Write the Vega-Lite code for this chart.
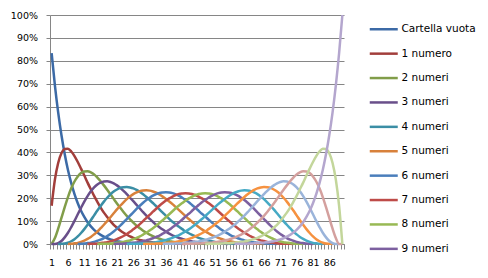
{
"$schema": "https://vega.github.io/schema/vega-lite/v6.json",
"width": 294, "height": 229,
"autosize": "none",
"padding": {"left": 50, "top": 15, "right": 144, "bottom": 34},
"background": "white",
"config": {"view": {"stroke": null}, "font": "DejaVu Sans"},
"datasets": {
"nomi": [{"k":0,"serie":"Cartella vuota"},{"k":1,"serie":"1 numero"},{"k":2,"serie":"2 numeri"},{"k":3,"serie":"3 numeri"},{"k":4,"serie":"4 numeri"},{"k":5,"serie":"5 numeri"},{"k":6,"serie":"6 numeri"},{"k":7,"serie":"7 numeri"},{"k":8,"serie":"8 numeri"},{"k":9,"serie":"9 numeri"},{"k":10,"serie":"10 numeri"},{"k":11,"serie":"11 numeri"},{"k":12,"serie":"12 numeri"},{"k":13,"serie":"13 numeri"},{"k":14,"serie":"14 numeri"},{"k":15,"serie":"15 numeri"}],
"dati": [
{"k":0,"n":1,"p":0.833},{"k":0,"n":2,"p":0.693},{"k":0,"n":3,"p":0.575},{"k":0,"n":4,"p":0.476},{"k":0,"n":5,"p":0.393},{"k":0,"n":6,"p":0.323},{"k":0,"n":7,"p":0.266},{"k":0,"n":8,"p":0.218},{"k":0,"n":9,"p":0.178},{"k":0,"n":10,"p":0.145},{"k":0,"n":11,"p":0.118},{"k":0,"n":12,"p":0.095},{"k":0,"n":13,"p":0.077},{"k":0,"n":14,"p":0.062},{"k":0,"n":15,"p":0.050},{"k":0,"n":16,"p":0.040},{"k":0,"n":17,"p":0.032},{"k":0,"n":18,"p":0.025},{"k":0,"n":19,"p":0.020},{"k":0,"n":20,"p":0.016},{"k":0,"n":21,"p":0.012},{"k":0,"n":22,"p":0.010},{"k":0,"n":23,"p":0.008},{"k":0,"n":24,"p":0.006},{"k":0,"n":25,"p":0.005},{"k":0,"n":26,"p":0.004},{"k":0,"n":27,"p":0.003},{"k":0,"n":28,"p":0.002},{"k":0,"n":29,"p":0.002},{"k":0,"n":30,"p":0.001},{"k":0,"n":31,"p":0.001},{"k":0,"n":32,"p":0.001},{"k":0,"n":33,"p":0},
{"k":1,"n":1,"p":0.167},{"k":1,"n":2,"p":0.281},{"k":1,"n":3,"p":0.354},{"k":1,"n":4,"p":0.396},{"k":1,"n":5,"p":0.415},{"k":1,"n":6,"p":0.416},{"k":1,"n":7,"p":0.404},{"k":1,"n":8,"p":0.384},{"k":1,"n":9,"p":0.358},{"k":1,"n":10,"p":0.329},{"k":1,"n":11,"p":0.299},{"k":1,"n":12,"p":0.268},{"k":1,"n":13,"p":0.239},{"k":1,"n":14,"p":0.210},{"k":1,"n":15,"p":0.184},{"k":1,"n":16,"p":0.159},{"k":1,"n":17,"p":0.137},{"k":1,"n":18,"p":0.118},{"k":1,"n":19,"p":0.100},{"k":1,"n":20,"p":0.084},{"k":1,"n":21,"p":0.071},{"k":1,"n":22,"p":0.059},{"k":1,"n":23,"p":0.049},{"k":1,"n":24,"p":0.041},{"k":1,"n":25,"p":0.033},{"k":1,"n":26,"p":0.027},{"k":1,"n":27,"p":0.022},{"k":1,"n":28,"p":0.018},{"k":1,"n":29,"p":0.014},{"k":1,"n":30,"p":0.011},{"k":1,"n":31,"p":0.009},{"k":1,"n":32,"p":0.007},{"k":1,"n":33,"p":0.006},{"k":1,"n":34,"p":0.004},{"k":1,"n":35,"p":0.003},{"k":1,"n":36,"p":0.003},{"k":1,"n":37,"p":0.002},{"k":1,"n":38,"p":0.001},{"k":1,"n":39,"p":0.001},{"k":1,"n":40,"p":0.001},{"k":1,"n":41,"p":0.001},{"k":1,"n":42,"p":0},
{"k":2,"n":1,"p":0},{"k":2,"n":2,"p":0.026},{"k":2,"n":3,"p":0.067},{"k":2,"n":4,"p":0.114},{"k":2,"n":5,"p":0.161},{"k":2,"n":6,"p":0.205},{"k":2,"n":7,"p":0.243},{"k":2,"n":8,"p":0.273},{"k":2,"n":9,"p":0.295},{"k":2,"n":10,"p":0.310},{"k":2,"n":11,"p":0.317},{"k":2,"n":12,"p":0.318},{"k":2,"n":13,"p":0.313},{"k":2,"n":14,"p":0.304},{"k":2,"n":15,"p":0.290},{"k":2,"n":16,"p":0.274},{"k":2,"n":17,"p":0.256},{"k":2,"n":18,"p":0.237},{"k":2,"n":19,"p":0.217},{"k":2,"n":20,"p":0.197},{"k":2,"n":21,"p":0.177},{"k":2,"n":22,"p":0.158},{"k":2,"n":23,"p":0.140},{"k":2,"n":24,"p":0.123},{"k":2,"n":25,"p":0.108},{"k":2,"n":26,"p":0.093},{"k":2,"n":27,"p":0.080},{"k":2,"n":28,"p":0.069},{"k":2,"n":29,"p":0.058},{"k":2,"n":30,"p":0.049},{"k":2,"n":31,"p":0.041},{"k":2,"n":32,"p":0.034},{"k":2,"n":33,"p":0.028},{"k":2,"n":34,"p":0.023},{"k":2,"n":35,"p":0.019},{"k":2,"n":36,"p":0.015},{"k":2,"n":37,"p":0.012},{"k":2,"n":38,"p":0.010},{"k":2,"n":39,"p":0.008},{"k":2,"n":40,"p":0.006},{"k":2,"n":41,"p":0.005},{"k":2,"n":42,"p":0.004},{"k":2,"n":43,"p":0.003},{"k":2,"n":44,"p":0.002},{"k":2,"n":45,"p":0.002},{"k":2,"n":46,"p":0.001},{"k":2,"n":47,"p":0.001},{"k":2,"n":48,"p":0.001},{"k":2,"n":49,"p":0},
{"k":3,"n":1,"p":0},{"k":3,"n":2,"p":0},{"k":3,"n":3,"p":0.004},{"k":3,"n":4,"p":0.013},{"k":3,"n":5,"p":0.029},{"k":3,"n":6,"p":0.049},{"k":3,"n":7,"p":0.074},{"k":3,"n":8,"p":0.101},{"k":3,"n":9,"p":0.130},{"k":3,"n":10,"p":0.158},{"k":3,"n":11,"p":0.185},{"k":3,"n":12,"p":0.209},{"k":3,"n":13,"p":0.230},{"k":3,"n":14,"p":0.247},{"k":3,"n":15,"p":0.260},{"k":3,"n":16,"p":0.268},{"k":3,"n":17,"p":0.273},{"k":3,"n":18,"p":0.274},{"k":3,"n":19,"p":0.271},{"k":3,"n":20,"p":0.265},{"k":3,"n":21,"p":0.256},{"k":3,"n":22,"p":0.245},{"k":3,"n":23,"p":0.232},{"k":3,"n":24,"p":0.218},{"k":3,"n":25,"p":0.202},{"k":3,"n":26,"p":0.187},{"k":3,"n":27,"p":0.171},{"k":3,"n":28,"p":0.155},{"k":3,"n":29,"p":0.139},{"k":3,"n":30,"p":0.124},{"k":3,"n":31,"p":0.110},{"k":3,"n":32,"p":0.097},{"k":3,"n":33,"p":0.084},{"k":3,"n":34,"p":0.073},{"k":3,"n":35,"p":0.063},{"k":3,"n":36,"p":0.054},{"k":3,"n":37,"p":0.045},{"k":3,"n":38,"p":0.038},{"k":3,"n":39,"p":0.032},{"k":3,"n":40,"p":0.026},{"k":3,"n":41,"p":0.022},{"k":3,"n":42,"p":0.017},{"k":3,"n":43,"p":0.014},{"k":3,"n":44,"p":0.011},{"k":3,"n":45,"p":0.009},{"k":3,"n":46,"p":0.007},{"k":3,"n":47,"p":0.005},{"k":3,"n":48,"p":0.004},{"k":3,"n":49,"p":0.003},{"k":3,"n":50,"p":0.002},{"k":3,"n":51,"p":0.002},{"k":3,"n":52,"p":0.001},{"k":3,"n":53,"p":0.001},{"k":3,"n":54,"p":0.001},{"k":3,"n":55,"p":0},
{"k":4,"n":3,"p":0},{"k":4,"n":4,"p":0.001},{"k":4,"n":5,"p":0.002},{"k":4,"n":6,"p":0.006},{"k":4,"n":7,"p":0.012},{"k":4,"n":8,"p":0.021},{"k":4,"n":9,"p":0.033},{"k":4,"n":10,"p":0.048},{"k":4,"n":11,"p":0.065},{"k":4,"n":12,"p":0.084},{"k":4,"n":13,"p":0.104},{"k":4,"n":14,"p":0.125},{"k":4,"n":15,"p":0.146},{"k":4,"n":16,"p":0.166},{"k":4,"n":17,"p":0.185},{"k":4,"n":18,"p":0.202},{"k":4,"n":19,"p":0.217},{"k":4,"n":20,"p":0.229},{"k":4,"n":21,"p":0.238},{"k":4,"n":22,"p":0.245},{"k":4,"n":23,"p":0.248},{"k":4,"n":24,"p":0.249},{"k":4,"n":25,"p":0.247},{"k":4,"n":26,"p":0.243},{"k":4,"n":27,"p":0.236},{"k":4,"n":28,"p":0.227},{"k":4,"n":29,"p":0.217},{"k":4,"n":30,"p":0.205},{"k":4,"n":31,"p":0.192},{"k":4,"n":32,"p":0.179},{"k":4,"n":33,"p":0.165},{"k":4,"n":34,"p":0.151},{"k":4,"n":35,"p":0.137},{"k":4,"n":36,"p":0.123},{"k":4,"n":37,"p":0.110},{"k":4,"n":38,"p":0.097},{"k":4,"n":39,"p":0.086},{"k":4,"n":40,"p":0.075},{"k":4,"n":41,"p":0.065},{"k":4,"n":42,"p":0.055},{"k":4,"n":43,"p":0.047},{"k":4,"n":44,"p":0.040},{"k":4,"n":45,"p":0.033},{"k":4,"n":46,"p":0.027},{"k":4,"n":47,"p":0.022},{"k":4,"n":48,"p":0.018},{"k":4,"n":49,"p":0.015},{"k":4,"n":50,"p":0.012},{"k":4,"n":51,"p":0.009},{"k":4,"n":52,"p":0.007},{"k":4,"n":53,"p":0.005},{"k":4,"n":54,"p":0.004},{"k":4,"n":55,"p":0.003},{"k":4,"n":56,"p":0.002},{"k":4,"n":57,"p":0.002},{"k":4,"n":58,"p":0.001},{"k":4,"n":59,"p":0.001},{"k":4,"n":60,"p":0.001},{"k":4,"n":61,"p":0},
{"k":5,"n":6,"p":0},{"k":5,"n":7,"p":0.001},{"k":5,"n":8,"p":0.003},{"k":5,"n":9,"p":0.005},{"k":5,"n":10,"p":0.009},{"k":5,"n":11,"p":0.015},{"k":5,"n":12,"p":0.022},{"k":5,"n":13,"p":0.031},{"k":5,"n":14,"p":0.042},{"k":5,"n":15,"p":0.054},{"k":5,"n":16,"p":0.069},{"k":5,"n":17,"p":0.084},{"k":5,"n":18,"p":0.100},{"k":5,"n":19,"p":0.117},{"k":5,"n":20,"p":0.134},{"k":5,"n":21,"p":0.151},{"k":5,"n":22,"p":0.167},{"k":5,"n":23,"p":0.182},{"k":5,"n":24,"p":0.196},{"k":5,"n":25,"p":0.208},{"k":5,"n":26,"p":0.218},{"k":5,"n":27,"p":0.225},{"k":5,"n":28,"p":0.231},{"k":5,"n":29,"p":0.234},{"k":5,"n":30,"p":0.235},{"k":5,"n":31,"p":0.233},{"k":5,"n":32,"p":0.229},{"k":5,"n":33,"p":0.224},{"k":5,"n":34,"p":0.216},{"k":5,"n":35,"p":0.207},{"k":5,"n":36,"p":0.197},{"k":5,"n":37,"p":0.186},{"k":5,"n":38,"p":0.174},{"k":5,"n":39,"p":0.161},{"k":5,"n":40,"p":0.148},{"k":5,"n":41,"p":0.135},{"k":5,"n":42,"p":0.122},{"k":5,"n":43,"p":0.109},{"k":5,"n":44,"p":0.097},{"k":5,"n":45,"p":0.085},{"k":5,"n":46,"p":0.074},{"k":5,"n":47,"p":0.064},{"k":5,"n":48,"p":0.055},{"k":5,"n":49,"p":0.047},{"k":5,"n":50,"p":0.039},{"k":5,"n":51,"p":0.033},{"k":5,"n":52,"p":0.027},{"k":5,"n":53,"p":0.022},{"k":5,"n":54,"p":0.018},{"k":5,"n":55,"p":0.014},{"k":5,"n":56,"p":0.011},{"k":5,"n":57,"p":0.008},{"k":5,"n":58,"p":0.006},{"k":5,"n":59,"p":0.005},{"k":5,"n":60,"p":0.004},{"k":5,"n":61,"p":0.003},{"k":5,"n":62,"p":0.002},{"k":5,"n":63,"p":0.001},{"k":5,"n":64,"p":0.001},{"k":5,"n":65,"p":0.001},{"k":5,"n":66,"p":0},
{"k":6,"n":9,"p":0},{"k":6,"n":10,"p":0.001},{"k":6,"n":11,"p":0.002},{"k":6,"n":12,"p":0.004},{"k":6,"n":13,"p":0.006},{"k":6,"n":14,"p":0.009},{"k":6,"n":15,"p":0.014},{"k":6,"n":16,"p":0.019},{"k":6,"n":17,"p":0.026},{"k":6,"n":18,"p":0.035},{"k":6,"n":19,"p":0.044},{"k":6,"n":20,"p":0.055},{"k":6,"n":21,"p":0.067},{"k":6,"n":22,"p":0.080},{"k":6,"n":23,"p":0.094},{"k":6,"n":24,"p":0.109},{"k":6,"n":25,"p":0.124},{"k":6,"n":26,"p":0.138},{"k":6,"n":27,"p":0.153},{"k":6,"n":28,"p":0.167},{"k":6,"n":29,"p":0.180},{"k":6,"n":30,"p":0.192},{"k":6,"n":31,"p":0.202},{"k":6,"n":32,"p":0.211},{"k":6,"n":33,"p":0.218},{"k":6,"n":34,"p":0.223},{"k":6,"n":35,"p":0.225},{"k":6,"n":36,"p":0.226},{"k":6,"n":37,"p":0.225},{"k":6,"n":38,"p":0.222},{"k":6,"n":39,"p":0.217},{"k":6,"n":40,"p":0.210},{"k":6,"n":41,"p":0.202},{"k":6,"n":42,"p":0.192},{"k":6,"n":43,"p":0.182},{"k":6,"n":44,"p":0.170},{"k":6,"n":45,"p":0.158},{"k":6,"n":46,"p":0.145},{"k":6,"n":47,"p":0.132},{"k":6,"n":48,"p":0.120},{"k":6,"n":49,"p":0.107},{"k":6,"n":50,"p":0.095},{"k":6,"n":51,"p":0.083},{"k":6,"n":52,"p":0.073},{"k":6,"n":53,"p":0.062},{"k":6,"n":54,"p":0.053},{"k":6,"n":55,"p":0.045},{"k":6,"n":56,"p":0.037},{"k":6,"n":57,"p":0.031},{"k":6,"n":58,"p":0.025},{"k":6,"n":59,"p":0.020},{"k":6,"n":60,"p":0.016},{"k":6,"n":61,"p":0.012},{"k":6,"n":62,"p":0.009},{"k":6,"n":63,"p":0.007},{"k":6,"n":64,"p":0.005},{"k":6,"n":65,"p":0.004},{"k":6,"n":66,"p":0.003},{"k":6,"n":67,"p":0.002},{"k":6,"n":68,"p":0.001},{"k":6,"n":69,"p":0.001},{"k":6,"n":70,"p":0},
{"k":7,"n":12,"p":0},{"k":7,"n":13,"p":0.001},{"k":7,"n":14,"p":0.001},{"k":7,"n":15,"p":0.002},{"k":7,"n":16,"p":0.004},{"k":7,"n":17,"p":0.006},{"k":7,"n":18,"p":0.008},{"k":7,"n":19,"p":0.012},{"k":7,"n":20,"p":0.016},{"k":7,"n":21,"p":0.021},{"k":7,"n":22,"p":0.028},{"k":7,"n":23,"p":0.035},{"k":7,"n":24,"p":0.043},{"k":7,"n":25,"p":0.053},{"k":7,"n":26,"p":0.064},{"k":7,"n":27,"p":0.075},{"k":7,"n":28,"p":0.087},{"k":7,"n":29,"p":0.100},{"k":7,"n":30,"p":0.114},{"k":7,"n":31,"p":0.127},{"k":7,"n":32,"p":0.141},{"k":7,"n":33,"p":0.154},{"k":7,"n":34,"p":0.167},{"k":7,"n":35,"p":0.179},{"k":7,"n":36,"p":0.190},{"k":7,"n":37,"p":0.199},{"k":7,"n":38,"p":0.207},{"k":7,"n":39,"p":0.214},{"k":7,"n":40,"p":0.219},{"k":7,"n":41,"p":0.221},{"k":7,"n":42,"p":0.222},{"k":7,"n":43,"p":0.221},{"k":7,"n":44,"p":0.218},{"k":7,"n":45,"p":0.214},{"k":7,"n":46,"p":0.207},{"k":7,"n":47,"p":0.199},{"k":7,"n":48,"p":0.190},{"k":7,"n":49,"p":0.179},{"k":7,"n":50,"p":0.168},{"k":7,"n":51,"p":0.156},{"k":7,"n":52,"p":0.143},{"k":7,"n":53,"p":0.130},{"k":7,"n":54,"p":0.117},{"k":7,"n":55,"p":0.104},{"k":7,"n":56,"p":0.092},{"k":7,"n":57,"p":0.080},{"k":7,"n":58,"p":0.069},{"k":7,"n":59,"p":0.059},{"k":7,"n":60,"p":0.049},{"k":7,"n":61,"p":0.041},{"k":7,"n":62,"p":0.033},{"k":7,"n":63,"p":0.027},{"k":7,"n":64,"p":0.021},{"k":7,"n":65,"p":0.016},{"k":7,"n":66,"p":0.013},{"k":7,"n":67,"p":0.009},{"k":7,"n":68,"p":0.007},{"k":7,"n":69,"p":0.005},{"k":7,"n":70,"p":0.003},{"k":7,"n":71,"p":0.002},{"k":7,"n":72,"p":0.001},{"k":7,"n":73,"p":0.001},{"k":7,"n":74,"p":0.001},{"k":7,"n":75,"p":0},
{"k":8,"n":15,"p":0},{"k":8,"n":16,"p":0.001},{"k":8,"n":17,"p":0.001},{"k":8,"n":18,"p":0.001},{"k":8,"n":19,"p":0.002},{"k":8,"n":20,"p":0.003},{"k":8,"n":21,"p":0.005},{"k":8,"n":22,"p":0.007},{"k":8,"n":23,"p":0.009},{"k":8,"n":24,"p":0.013},{"k":8,"n":25,"p":0.016},{"k":8,"n":26,"p":0.021},{"k":8,"n":27,"p":0.027},{"k":8,"n":28,"p":0.033},{"k":8,"n":29,"p":0.041},{"k":8,"n":30,"p":0.049},{"k":8,"n":31,"p":0.059},{"k":8,"n":32,"p":0.069},{"k":8,"n":33,"p":0.080},{"k":8,"n":34,"p":0.092},{"k":8,"n":35,"p":0.104},{"k":8,"n":36,"p":0.117},{"k":8,"n":37,"p":0.130},{"k":8,"n":38,"p":0.143},{"k":8,"n":39,"p":0.156},{"k":8,"n":40,"p":0.168},{"k":8,"n":41,"p":0.179},{"k":8,"n":42,"p":0.190},{"k":8,"n":43,"p":0.199},{"k":8,"n":44,"p":0.207},{"k":8,"n":45,"p":0.214},{"k":8,"n":46,"p":0.218},{"k":8,"n":47,"p":0.221},{"k":8,"n":48,"p":0.222},{"k":8,"n":49,"p":0.221},{"k":8,"n":50,"p":0.219},{"k":8,"n":51,"p":0.214},{"k":8,"n":52,"p":0.207},{"k":8,"n":53,"p":0.199},{"k":8,"n":54,"p":0.190},{"k":8,"n":55,"p":0.179},{"k":8,"n":56,"p":0.167},{"k":8,"n":57,"p":0.154},{"k":8,"n":58,"p":0.141},{"k":8,"n":59,"p":0.127},{"k":8,"n":60,"p":0.114},{"k":8,"n":61,"p":0.100},{"k":8,"n":62,"p":0.087},{"k":8,"n":63,"p":0.075},{"k":8,"n":64,"p":0.064},{"k":8,"n":65,"p":0.053},{"k":8,"n":66,"p":0.043},{"k":8,"n":67,"p":0.035},{"k":8,"n":68,"p":0.028},{"k":8,"n":69,"p":0.021},{"k":8,"n":70,"p":0.016},{"k":8,"n":71,"p":0.012},{"k":8,"n":72,"p":0.008},{"k":8,"n":73,"p":0.006},{"k":8,"n":74,"p":0.004},{"k":8,"n":75,"p":0.002},{"k":8,"n":76,"p":0.001},{"k":8,"n":77,"p":0.001},{"k":8,"n":78,"p":0},
{"k":9,"n":20,"p":0},{"k":9,"n":21,"p":0.001},{"k":9,"n":22,"p":0.001},{"k":9,"n":23,"p":0.002},{"k":9,"n":24,"p":0.003},{"k":9,"n":25,"p":0.004},{"k":9,"n":26,"p":0.005},{"k":9,"n":27,"p":0.007},{"k":9,"n":28,"p":0.009},{"k":9,"n":29,"p":0.012},{"k":9,"n":30,"p":0.016},{"k":9,"n":31,"p":0.020},{"k":9,"n":32,"p":0.025},{"k":9,"n":33,"p":0.031},{"k":9,"n":34,"p":0.037},{"k":9,"n":35,"p":0.045},{"k":9,"n":36,"p":0.053},{"k":9,"n":37,"p":0.062},{"k":9,"n":38,"p":0.073},{"k":9,"n":39,"p":0.083},{"k":9,"n":40,"p":0.095},{"k":9,"n":41,"p":0.107},{"k":9,"n":42,"p":0.120},{"k":9,"n":43,"p":0.132},{"k":9,"n":44,"p":0.145},{"k":9,"n":45,"p":0.158},{"k":9,"n":46,"p":0.170},{"k":9,"n":47,"p":0.182},{"k":9,"n":48,"p":0.192},{"k":9,"n":49,"p":0.202},{"k":9,"n":50,"p":0.210},{"k":9,"n":51,"p":0.217},{"k":9,"n":52,"p":0.222},{"k":9,"n":53,"p":0.225},{"k":9,"n":54,"p":0.226},{"k":9,"n":55,"p":0.225},{"k":9,"n":56,"p":0.223},{"k":9,"n":57,"p":0.218},{"k":9,"n":58,"p":0.211},{"k":9,"n":59,"p":0.202},{"k":9,"n":60,"p":0.192},{"k":9,"n":61,"p":0.180},{"k":9,"n":62,"p":0.167},{"k":9,"n":63,"p":0.153},{"k":9,"n":64,"p":0.138},{"k":9,"n":65,"p":0.124},{"k":9,"n":66,"p":0.109},{"k":9,"n":67,"p":0.094},{"k":9,"n":68,"p":0.080},{"k":9,"n":69,"p":0.067},{"k":9,"n":70,"p":0.055},{"k":9,"n":71,"p":0.044},{"k":9,"n":72,"p":0.035},{"k":9,"n":73,"p":0.026},{"k":9,"n":74,"p":0.019},{"k":9,"n":75,"p":0.014},{"k":9,"n":76,"p":0.009},{"k":9,"n":77,"p":0.006},{"k":9,"n":78,"p":0.004},{"k":9,"n":79,"p":0.002},{"k":9,"n":80,"p":0.001},{"k":9,"n":81,"p":0},
{"k":10,"n":24,"p":0},{"k":10,"n":25,"p":0.001},{"k":10,"n":26,"p":0.001},{"k":10,"n":27,"p":0.001},{"k":10,"n":28,"p":0.002},{"k":10,"n":29,"p":0.003},{"k":10,"n":30,"p":0.004},{"k":10,"n":31,"p":0.005},{"k":10,"n":32,"p":0.006},{"k":10,"n":33,"p":0.008},{"k":10,"n":34,"p":0.011},{"k":10,"n":35,"p":0.014},{"k":10,"n":36,"p":0.018},{"k":10,"n":37,"p":0.022},{"k":10,"n":38,"p":0.027},{"k":10,"n":39,"p":0.033},{"k":10,"n":40,"p":0.039},{"k":10,"n":41,"p":0.047},{"k":10,"n":42,"p":0.055},{"k":10,"n":43,"p":0.064},{"k":10,"n":44,"p":0.074},{"k":10,"n":45,"p":0.085},{"k":10,"n":46,"p":0.097},{"k":10,"n":47,"p":0.109},{"k":10,"n":48,"p":0.122},{"k":10,"n":49,"p":0.135},{"k":10,"n":50,"p":0.148},{"k":10,"n":51,"p":0.161},{"k":10,"n":52,"p":0.174},{"k":10,"n":53,"p":0.186},{"k":10,"n":54,"p":0.197},{"k":10,"n":55,"p":0.207},{"k":10,"n":56,"p":0.216},{"k":10,"n":57,"p":0.224},{"k":10,"n":58,"p":0.229},{"k":10,"n":59,"p":0.233},{"k":10,"n":60,"p":0.235},{"k":10,"n":61,"p":0.234},{"k":10,"n":62,"p":0.231},{"k":10,"n":63,"p":0.225},{"k":10,"n":64,"p":0.218},{"k":10,"n":65,"p":0.208},{"k":10,"n":66,"p":0.196},{"k":10,"n":67,"p":0.182},{"k":10,"n":68,"p":0.167},{"k":10,"n":69,"p":0.151},{"k":10,"n":70,"p":0.134},{"k":10,"n":71,"p":0.117},{"k":10,"n":72,"p":0.100},{"k":10,"n":73,"p":0.084},{"k":10,"n":74,"p":0.069},{"k":10,"n":75,"p":0.054},{"k":10,"n":76,"p":0.042},{"k":10,"n":77,"p":0.031},{"k":10,"n":78,"p":0.022},{"k":10,"n":79,"p":0.015},{"k":10,"n":80,"p":0.009},{"k":10,"n":81,"p":0.005},{"k":10,"n":82,"p":0.003},{"k":10,"n":83,"p":0.001},{"k":10,"n":84,"p":0},
{"k":11,"n":29,"p":0},{"k":11,"n":30,"p":0.001},{"k":11,"n":31,"p":0.001},{"k":11,"n":32,"p":0.001},{"k":11,"n":33,"p":0.002},{"k":11,"n":34,"p":0.002},{"k":11,"n":35,"p":0.003},{"k":11,"n":36,"p":0.004},{"k":11,"n":37,"p":0.005},{"k":11,"n":38,"p":0.007},{"k":11,"n":39,"p":0.009},{"k":11,"n":40,"p":0.012},{"k":11,"n":41,"p":0.015},{"k":11,"n":42,"p":0.018},{"k":11,"n":43,"p":0.022},{"k":11,"n":44,"p":0.027},{"k":11,"n":45,"p":0.033},{"k":11,"n":46,"p":0.040},{"k":11,"n":47,"p":0.047},{"k":11,"n":48,"p":0.055},{"k":11,"n":49,"p":0.065},{"k":11,"n":50,"p":0.075},{"k":11,"n":51,"p":0.086},{"k":11,"n":52,"p":0.097},{"k":11,"n":53,"p":0.110},{"k":11,"n":54,"p":0.123},{"k":11,"n":55,"p":0.137},{"k":11,"n":56,"p":0.151},{"k":11,"n":57,"p":0.165},{"k":11,"n":58,"p":0.179},{"k":11,"n":59,"p":0.192},{"k":11,"n":60,"p":0.205},{"k":11,"n":61,"p":0.217},{"k":11,"n":62,"p":0.227},{"k":11,"n":63,"p":0.236},{"k":11,"n":64,"p":0.243},{"k":11,"n":65,"p":0.247},{"k":11,"n":66,"p":0.249},{"k":11,"n":67,"p":0.248},{"k":11,"n":68,"p":0.245},{"k":11,"n":69,"p":0.238},{"k":11,"n":70,"p":0.229},{"k":11,"n":71,"p":0.217},{"k":11,"n":72,"p":0.202},{"k":11,"n":73,"p":0.185},{"k":11,"n":74,"p":0.166},{"k":11,"n":75,"p":0.146},{"k":11,"n":76,"p":0.125},{"k":11,"n":77,"p":0.104},{"k":11,"n":78,"p":0.084},{"k":11,"n":79,"p":0.065},{"k":11,"n":80,"p":0.048},{"k":11,"n":81,"p":0.033},{"k":11,"n":82,"p":0.021},{"k":11,"n":83,"p":0.012},{"k":11,"n":84,"p":0.006},{"k":11,"n":85,"p":0.002},{"k":11,"n":86,"p":0.001},{"k":11,"n":87,"p":0},
{"k":12,"n":35,"p":0},{"k":12,"n":36,"p":0.001},{"k":12,"n":37,"p":0.001},{"k":12,"n":38,"p":0.001},{"k":12,"n":39,"p":0.002},{"k":12,"n":40,"p":0.002},{"k":12,"n":41,"p":0.003},{"k":12,"n":42,"p":0.004},{"k":12,"n":43,"p":0.005},{"k":12,"n":44,"p":0.007},{"k":12,"n":45,"p":0.009},{"k":12,"n":46,"p":0.011},{"k":12,"n":47,"p":0.014},{"k":12,"n":48,"p":0.017},{"k":12,"n":49,"p":0.022},{"k":12,"n":50,"p":0.026},{"k":12,"n":51,"p":0.032},{"k":12,"n":52,"p":0.038},{"k":12,"n":53,"p":0.045},{"k":12,"n":54,"p":0.054},{"k":12,"n":55,"p":0.063},{"k":12,"n":56,"p":0.073},{"k":12,"n":57,"p":0.084},{"k":12,"n":58,"p":0.097},{"k":12,"n":59,"p":0.110},{"k":12,"n":60,"p":0.124},{"k":12,"n":61,"p":0.139},{"k":12,"n":62,"p":0.155},{"k":12,"n":63,"p":0.171},{"k":12,"n":64,"p":0.187},{"k":12,"n":65,"p":0.202},{"k":12,"n":66,"p":0.218},{"k":12,"n":67,"p":0.232},{"k":12,"n":68,"p":0.245},{"k":12,"n":69,"p":0.256},{"k":12,"n":70,"p":0.265},{"k":12,"n":71,"p":0.271},{"k":12,"n":72,"p":0.274},{"k":12,"n":73,"p":0.273},{"k":12,"n":74,"p":0.268},{"k":12,"n":75,"p":0.260},{"k":12,"n":76,"p":0.247},{"k":12,"n":77,"p":0.230},{"k":12,"n":78,"p":0.209},{"k":12,"n":79,"p":0.185},{"k":12,"n":80,"p":0.158},{"k":12,"n":81,"p":0.130},{"k":12,"n":82,"p":0.101},{"k":12,"n":83,"p":0.074},{"k":12,"n":84,"p":0.049},{"k":12,"n":85,"p":0.029},{"k":12,"n":86,"p":0.013},{"k":12,"n":87,"p":0.004},{"k":12,"n":88,"p":0},{"k":12,"n":89,"p":0},
{"k":13,"n":41,"p":0},{"k":13,"n":42,"p":0.001},{"k":13,"n":43,"p":0.001},{"k":13,"n":44,"p":0.001},{"k":13,"n":45,"p":0.002},{"k":13,"n":46,"p":0.002},{"k":13,"n":47,"p":0.003},{"k":13,"n":48,"p":0.004},{"k":13,"n":49,"p":0.005},{"k":13,"n":50,"p":0.006},{"k":13,"n":51,"p":0.008},{"k":13,"n":52,"p":0.010},{"k":13,"n":53,"p":0.012},{"k":13,"n":54,"p":0.015},{"k":13,"n":55,"p":0.019},{"k":13,"n":56,"p":0.023},{"k":13,"n":57,"p":0.028},{"k":13,"n":58,"p":0.034},{"k":13,"n":59,"p":0.041},{"k":13,"n":60,"p":0.049},{"k":13,"n":61,"p":0.058},{"k":13,"n":62,"p":0.069},{"k":13,"n":63,"p":0.080},{"k":13,"n":64,"p":0.093},{"k":13,"n":65,"p":0.108},{"k":13,"n":66,"p":0.123},{"k":13,"n":67,"p":0.140},{"k":13,"n":68,"p":0.158},{"k":13,"n":69,"p":0.177},{"k":13,"n":70,"p":0.197},{"k":13,"n":71,"p":0.217},{"k":13,"n":72,"p":0.237},{"k":13,"n":73,"p":0.256},{"k":13,"n":74,"p":0.274},{"k":13,"n":75,"p":0.290},{"k":13,"n":76,"p":0.304},{"k":13,"n":77,"p":0.313},{"k":13,"n":78,"p":0.318},{"k":13,"n":79,"p":0.317},{"k":13,"n":80,"p":0.310},{"k":13,"n":81,"p":0.295},{"k":13,"n":82,"p":0.273},{"k":13,"n":83,"p":0.243},{"k":13,"n":84,"p":0.205},{"k":13,"n":85,"p":0.161},{"k":13,"n":86,"p":0.114},{"k":13,"n":87,"p":0.067},{"k":13,"n":88,"p":0.026},{"k":13,"n":89,"p":0},{"k":13,"n":90,"p":0},
{"k":14,"n":48,"p":0},{"k":14,"n":49,"p":0.001},{"k":14,"n":50,"p":0.001},{"k":14,"n":51,"p":0.001},{"k":14,"n":52,"p":0.001},{"k":14,"n":53,"p":0.002},{"k":14,"n":54,"p":0.003},{"k":14,"n":55,"p":0.003},{"k":14,"n":56,"p":0.004},{"k":14,"n":57,"p":0.006},{"k":14,"n":58,"p":0.007},{"k":14,"n":59,"p":0.009},{"k":14,"n":60,"p":0.011},{"k":14,"n":61,"p":0.014},{"k":14,"n":62,"p":0.018},{"k":14,"n":63,"p":0.022},{"k":14,"n":64,"p":0.027},{"k":14,"n":65,"p":0.033},{"k":14,"n":66,"p":0.041},{"k":14,"n":67,"p":0.049},{"k":14,"n":68,"p":0.059},{"k":14,"n":69,"p":0.071},{"k":14,"n":70,"p":0.084},{"k":14,"n":71,"p":0.100},{"k":14,"n":72,"p":0.118},{"k":14,"n":73,"p":0.137},{"k":14,"n":74,"p":0.159},{"k":14,"n":75,"p":0.184},{"k":14,"n":76,"p":0.210},{"k":14,"n":77,"p":0.239},{"k":14,"n":78,"p":0.268},{"k":14,"n":79,"p":0.299},{"k":14,"n":80,"p":0.329},{"k":14,"n":81,"p":0.358},{"k":14,"n":82,"p":0.384},{"k":14,"n":83,"p":0.404},{"k":14,"n":84,"p":0.416},{"k":14,"n":85,"p":0.415},{"k":14,"n":86,"p":0.396},{"k":14,"n":87,"p":0.354},{"k":14,"n":88,"p":0.281},{"k":14,"n":89,"p":0.167},{"k":14,"n":90,"p":0},
{"k":15,"n":57,"p":0},{"k":15,"n":58,"p":0.001},{"k":15,"n":59,"p":0.001},{"k":15,"n":60,"p":0.001},{"k":15,"n":61,"p":0.002},{"k":15,"n":62,"p":0.002},{"k":15,"n":63,"p":0.003},{"k":15,"n":64,"p":0.004},{"k":15,"n":65,"p":0.005},{"k":15,"n":66,"p":0.006},{"k":15,"n":67,"p":0.008},{"k":15,"n":68,"p":0.010},{"k":15,"n":69,"p":0.012},{"k":15,"n":70,"p":0.016},{"k":15,"n":71,"p":0.020},{"k":15,"n":72,"p":0.025},{"k":15,"n":73,"p":0.032},{"k":15,"n":74,"p":0.040},{"k":15,"n":75,"p":0.050},{"k":15,"n":76,"p":0.062},{"k":15,"n":77,"p":0.077},{"k":15,"n":78,"p":0.095},{"k":15,"n":79,"p":0.118},{"k":15,"n":80,"p":0.145},{"k":15,"n":81,"p":0.178},{"k":15,"n":82,"p":0.218},{"k":15,"n":83,"p":0.266},{"k":15,"n":84,"p":0.323},{"k":15,"n":85,"p":0.393},{"k":15,"n":86,"p":0.476},{"k":15,"n":87,"p":0.575},{"k":15,"n":88,"p":0.693},{"k":15,"n":89,"p":0.833},{"k":15,"n":90,"p":1}
]},
"data": {"name": "dati"},
"transform": [{"lookup": "k", "from": {"data": {"name": "nomi"}, "key": "k", "fields": ["serie"]}}],
"mark": {"type": "line", "interpolate": "monotone", "strokeWidth": 2.5},
"encoding": {
"x": {"field": "n", "type": "quantitative", "scale": {"domain": [0.5, 90.5], "nice": false, "zero": false},
 "axis": {"title": null, "grid": false, "values": [0.5,1.5,2.5,3.5,4.5,5.5,6.5,7.5,8.5,9.5,10.5,11.5,12.5,13.5,14.5,15.5,16.5,17.5,18.5,19.5,20.5,21.5,22.5,23.5,24.5,25.5,26.5,27.5,28.5,29.5,30.5,31.5,32.5,33.5,34.5,35.5,36.5,37.5,38.5,39.5,40.5,41.5,42.5,43.5,44.5,45.5,46.5,47.5,48.5,49.5,50.5,51.5,52.5,53.5,54.5,55.5,56.5,57.5,58.5,59.5,60.5,61.5,62.5,63.5,64.5,65.5,66.5,67.5,68.5,69.5,70.5,71.5,72.5,73.5,74.5,75.5,76.5,77.5,78.5,79.5,80.5,81.5,82.5,83.5,84.5,85.5,86.5,87.5,88.5,89.5,90.5],
  "labelExpr": "datum.value < 90 && (datum.value - 0.5) % 5 == 0 ? format(datum.value + 0.5, 'd') : ''",
  "labelOffset": 1.63, "labelOverlap": false, "labelFlush": false, "labelBound": false,
  "tickSize": 5, "tickColor": "#868686", "domainColor": "#868686", "labelPadding": 8,
  "labelFont": "DejaVu Sans", "labelFontSize": 9.5, "labelColor": "#000000"}},
"y": {"field": "p", "type": "quantitative", "scale": {"domain": [0, 1], "nice": false},
 "axis": {"title": null, "values": [0,0.1,0.2,0.3,0.4,0.5,0.6,0.7,0.8,0.9,1], "format": ".0%",
  "grid": true, "gridColor": "#868686", "gridWidth": 1, "domainColor": "#868686", "tickColor": "#868686", "tickSize": 4,
  "labelPadding": 8.5, "labelFont": "DejaVu Sans", "labelFontSize": 9.5, "labelColor": "#000000"}},
"color": {"field": "serie", "type": "nominal",
 "scale": {"domain": ["Cartella vuota","1 numero","2 numeri","3 numeri","4 numeri","5 numeri","6 numeri","7 numeri","8 numeri","9 numeri","10 numeri","11 numeri","12 numeri","13 numeri","14 numeri","15 numeri"],
  "range": ["#3C6AA6","#A23E3B","#819D49","#694F8A","#3B8EA5","#D8813B","#4A7EBB","#BE4B48","#98B954","#7D60A0","#46AAC5","#F69240","#9AB4DA","#D4A09E","#C3D69B","#B4A6CE"]},
 "legend": {"title": null, "orient": "none", "legendX": 328.5, "legendY": 9,
  "values": ["Cartella vuota","1 numero","2 numeri","3 numeri","4 numeri","5 numeri","6 numeri","7 numeri","8 numeri","9 numeri"],
  "symbolType": "M-4,0H4", "symbolSize": 49, "symbolStrokeWidth": 2.5,
  "labelFont": "DejaVu Sans", "labelFontSize": 10.5, "labelColor": "#000000", "labelOffset": 12.5,
  "rowPadding": 13.4, "padding": 0}}
}
}
